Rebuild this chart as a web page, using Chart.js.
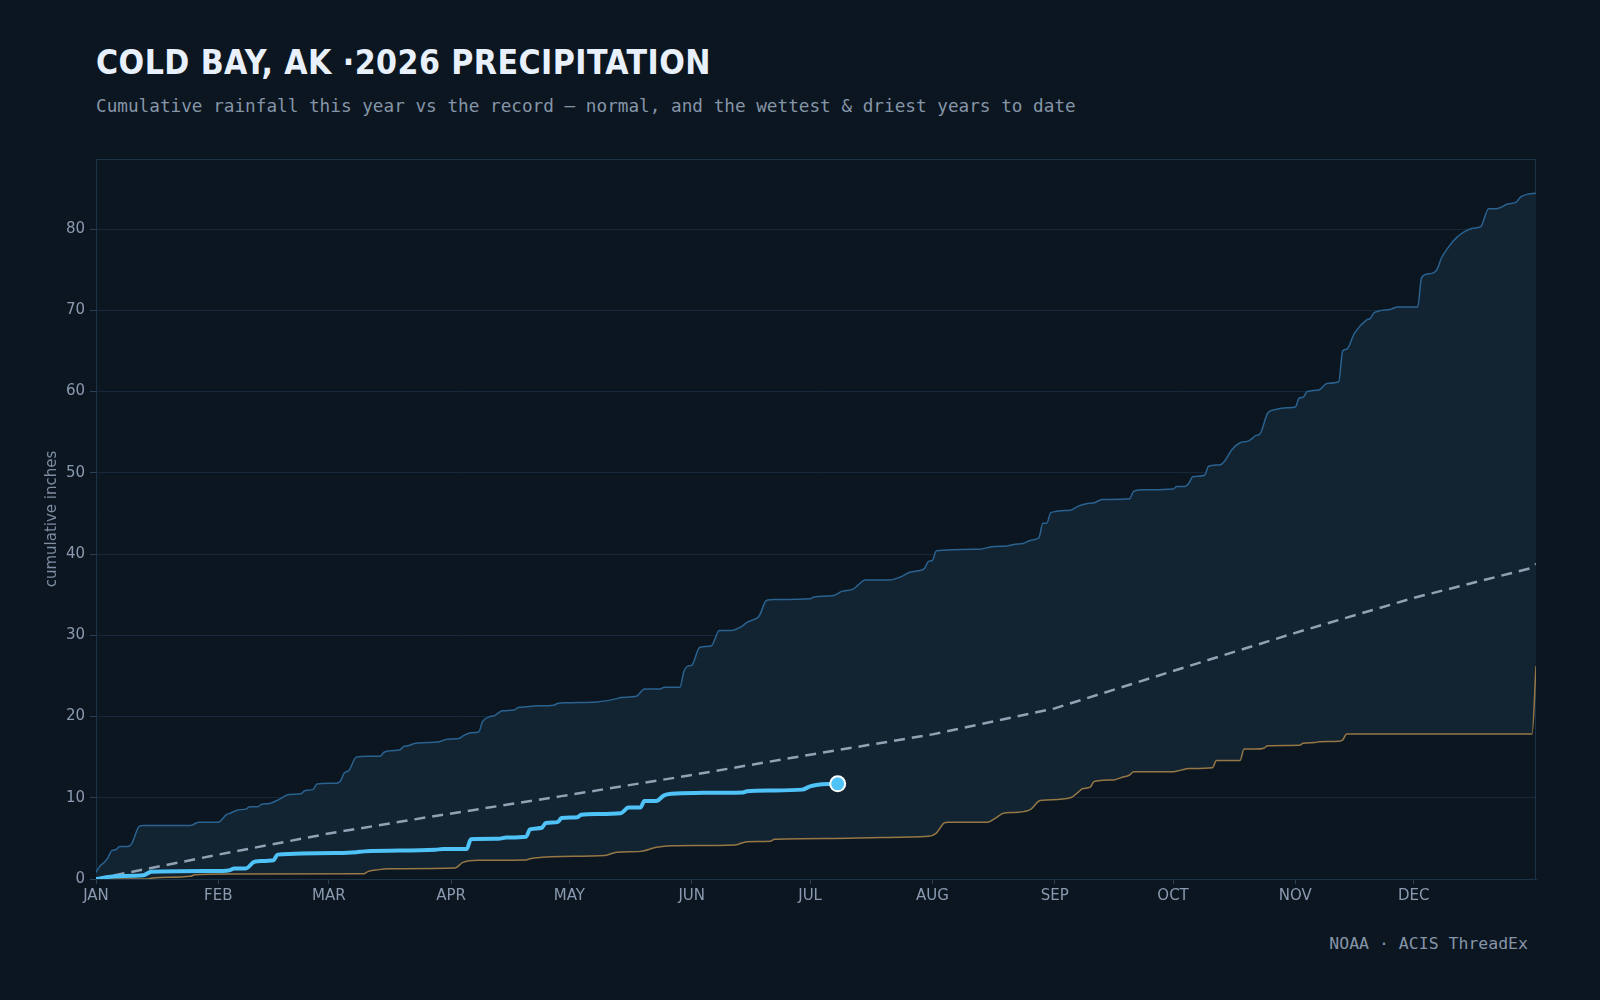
<!DOCTYPE html>
<html><head><meta charset="utf-8">
<script src="https://cdn.jsdelivr.net/npm/chart.js@4.4.1/dist/chart.umd.min.js"></script>
<style>
html,body{margin:0;padding:0;background:#0c1620;width:1600px;height:1000px;overflow:hidden;}
#title{position:absolute;left:96px;top:46px;font-family:"DejaVu Sans Condensed","DejaVu Sans",sans-serif;font-stretch:condensed;font-weight:bold;font-size:33.5px;line-height:34px;letter-spacing:0.45px;color:#e8f1fb;white-space:nowrap;}
#subtitle{position:absolute;left:96px;top:96px;font:17.7px/20px "DejaVu Sans Mono",monospace;color:#8595a8;white-space:nowrap;}
#source{position:absolute;right:72px;top:934px;font:16.5px/20px "DejaVu Sans Mono",monospace;color:#8595a8;white-space:nowrap;}
canvas{position:absolute;left:0;top:0;}
</style></head>
<body>
<div id="title">COLD BAY, AK ·2026 PRECIPITATION</div>
<div id="subtitle">Cumulative rainfall this year vs the record — normal, and the wettest &amp; driest years to date</div>
<div id="source">NOAA · ACIS ThreadEx</div>
<canvas id="c" width="1600" height="1000"></canvas>
<script>
// ---- data (day of year, 0 = Jan 1) ----
const monthStarts = [0,31,59,90,120,151,181,212,243,273,304,334];
const monthLabels = ['JAN','FEB','MAR','APR','MAY','JUN','JUL','AUG','SEP','OCT','NOV','DEC'];

const currentDays   = [0,5,12,14,32,34,35,38,40,41,45,46,62,66,68,86,88,94,95,102,104,109,110,113,114,117,118,122,123,127,133,135,138,139,142,144,146,152,164,165,171,179,181,183,186,188];
const currentValues = [0,0.35,0.45,0.9,1.0,1.1,1.3,1.3,2.1,2.2,2.3,3.0,3.2,3.3,3.4,3.6,3.7,3.7,4.9,4.95,5.1,5.2,6.1,6.3,6.9,7.0,7.5,7.6,7.9,8.0,8.1,8.8,8.8,9.6,9.6,10.3,10.5,10.6,10.65,10.8,10.9,11.0,11.4,11.6,11.7,11.72];

const normalDays   = [0,31,59,84,118,151,181,212,243,273,304,334,364,365];
const normalValues = [0,3.0,5.6,7.6,10.2,12.8,15.3,17.8,21.0,25.6,30.3,34.6,38.3,38.8];

const driestDays   = [0,13,15,24,25,33,68,69,71,74,91,93,97,109,110,113,118,129,132,138,142,146,162,165,171,172,186,199,211,213,215,216,226,228,230,233,237,239,240,247,249,250,252,253,258,260,262,263,273,275,277,283,284,290,291,294,296,297,305,306,309,310,315,316,317,364,365];
const driestValues = [0,0,0.16,0.33,0.53,0.62,0.66,0.94,1.1,1.27,1.35,2.05,2.3,2.35,2.5,2.67,2.78,2.9,3.3,3.4,3.9,4.1,4.2,4.6,4.65,4.9,5.0,5.1,5.25,5.65,6.9,7.0,7.0,7.5,8.1,8.2,8.6,9.6,9.7,10.0,10.7,11.1,11.3,12.0,12.2,12.5,12.8,13.2,13.2,13.4,13.6,13.7,14.6,14.6,16.0,16.0,16.1,16.4,16.45,16.7,16.8,16.9,16.95,17.1,17.85,17.85,26.2];

const wettestDays   = [0,1,2,3,4,5,6,8,9,11,12,24,26,31,33,34,36,38,39,41,42,44,46,49,52,53,55,56,61,62,63,64,66,69,72,73,75,77,78,79,81,87,89,92,93,95,97,98,100,101,103,106,107,109,111,116,117,119,127,132,133,137,139,143,144,148,149,150,151,153,156,158,161,164,165,166,168,170,172,181,182,187,189,192,193,195,201,204,206,208,210,211,212,213,224,227,231,233,235,237,239,240,241,242,247,249,251,253,255,262,263,265,273,274,276,277,278,281,282,285,286,288,290,292,293,294,295,297,299,302,304,305,306,307,310,312,315,316,317,319,322,323,324,328,330,335,336,338,339,340,341,343,345,347,349,351,353,355,358,360,361,363,365];
const wettestValues = [0.8,1.6,2.0,2.6,3.5,3.6,4.0,4.0,4.3,6.5,6.6,6.6,7.0,7.0,7.9,8.1,8.5,8.6,8.9,8.9,9.2,9.3,9.7,10.4,10.5,10.9,11.0,11.7,11.8,12.1,13.1,13.3,15.0,15.1,15.1,15.6,15.8,15.9,16.3,16.4,16.7,16.9,17.2,17.3,17.6,18.0,18.1,19.4,20.0,20.1,20.7,20.8,21.1,21.2,21.3,21.4,21.6,21.7,21.8,22.2,22.35,22.5,23.4,23.4,23.6,23.6,25.5,26.2,26.3,28.5,28.7,30.6,30.6,31.2,31.6,31.8,32.3,34.3,34.4,34.5,34.7,34.9,35.4,35.7,36.1,36.8,36.8,37.2,37.7,37.9,38.2,39.1,39.2,40.4,40.6,40.9,41.0,41.2,41.3,41.7,42.0,43.8,43.8,45.1,45.4,45.9,46.2,46.3,46.7,46.8,47.7,47.9,48.0,48.3,48.3,48.7,49.5,49.7,50.8,51.0,51.4,52.9,53.7,53.9,54.2,54.6,54.75,57.35,57.8,58.0,58.1,59.2,59.3,60.0,60.2,61.0,61.2,65.0,65.2,67.2,68.8,69.0,69.7,70.1,70.4,70.4,74.0,74.5,74.6,75.1,76.4,77.9,79.0,79.7,80.1,80.3,82.5,82.5,83.1,83.3,83.9,84.3,84.4];

// ---- build ----
const toPts = (d, v) => d.map((x, i) => ({x: x, y: v[i]}));
const yMax = Math.max(...wettestValues) * 1.05;
const lastIdx = currentDays.length - 1;
const tickFont = {family: 'DejaVu Sans', size: 15};
const tickColor = '#8a9ab0';

const framePlugin = {
  id: 'frame',
  beforeDatasetsDraw(chart) {
    const {ctx, chartArea: a} = chart;
    ctx.save();
    ctx.strokeStyle = '#1b3347';
    ctx.lineWidth = 1;
    ctx.beginPath();
    ctx.moveTo(a.left, a.top + 0.5);
    ctx.lineTo(a.right - 0.5, a.top + 0.5);
    ctx.lineTo(a.right - 0.5, a.bottom);
    ctx.stroke();
    ctx.restore();
  }
};

new Chart(document.getElementById('c'), {
  type: 'line',
  data: {
    datasets: [
      {
        label: '2026',
        data: toPts(currentDays, currentValues),
        borderColor: '#4fc3f7',
        borderWidth: 4,
        fill: false,
        cubicInterpolationMode: 'monotone',
        pointRadius: c => c.dataIndex === lastIdx ? 7.5 : 0,
        pointBackgroundColor: '#4fc3f7',
        pointBorderColor: '#ffffff',
        pointBorderWidth: 2
      },
      {
        label: 'Normal',
        data: toPts(normalDays, normalValues),
        borderColor: 'rgba(160,176,194,0.9)',
        borderWidth: 2.5,
        borderDash: [11, 7],
        fill: false,
        pointRadius: 0,
        tension: 0
      },
      {
        label: 'Driest',
        data: toPts(driestDays, driestValues),
        borderColor: '#967846',
        borderWidth: 1.5,
        fill: false,
        pointRadius: 0,
        cubicInterpolationMode: 'monotone'
      },
      {
        label: 'Wettest',
        data: toPts(wettestDays, wettestValues),
        borderColor: '#2a6290',
        borderWidth: 1.5,
        backgroundColor: '#122332',
        fill: {target: 2},
        pointRadius: 0,
        cubicInterpolationMode: 'monotone'
      }
    ]
  },
  options: {
    responsive: false,
    animation: false,
    devicePixelRatio: 1,
    events: [],
    layout: {padding: {left: 0, right: 64, top: 159, bottom: 81}},
    plugins: {legend: {display: false}, tooltip: {enabled: false}},
    scales: {
      x: {
        type: 'linear',
        min: 0,
        max: 365,
        afterFit: s => { s.height = 40; },
        afterBuildTicks: s => { s.ticks = monthStarts.map(v => ({value: v})); },
        ticks: {
          callback: (v, i) => monthLabels[i],
          color: tickColor, font: tickFont, padding: 3,
          maxRotation: 0, autoSkip: false
        },
        grid: {drawOnChartArea: false, tickLength: 5, tickColor: '#2a4258'},
        border: {color: '#1b3347', width: 1}
      },
      y: {
        min: 0,
        max: yMax,
        afterFit: s => { s.width = 96; },
        ticks: {stepSize: 10, includeBounds: false, color: tickColor, font: tickFont, padding: 5},
        grid: {color: '#16283a', tickLength: 6, tickColor: '#2a4258'},
        border: {color: '#1b3347', width: 1},
        title: {
          display: true, text: 'cumulative inches', color: '#7d8da2',
          font: {family: 'DejaVu Sans', size: 15}, padding: {top: 43, bottom: 0}
        }
      }
    }
  },
  plugins: [framePlugin]
});
</script>
</body></html>
